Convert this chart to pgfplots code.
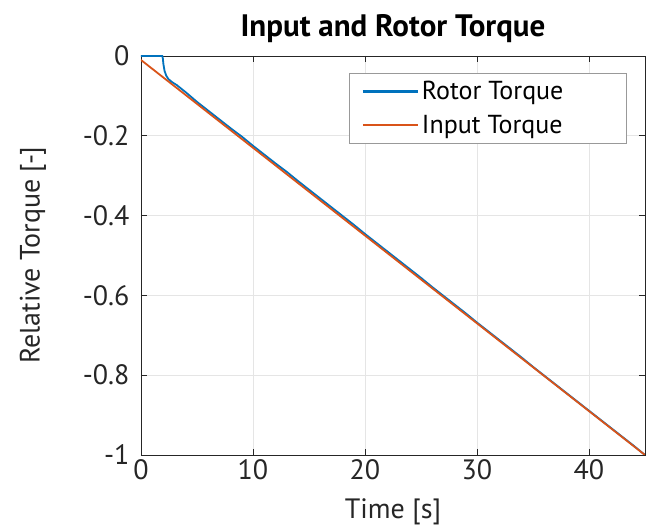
\documentclass[border=0pt]{standalone}
\usepackage{pgfplots}
\pgfplotsset{compat=1.18}
\usepackage{fontspec}
\setmainfont{PT Sans}
\definecolor{mblue}{rgb}{0,0.447,0.741}
\definecolor{morange}{rgb}{0.85,0.325,0.098}
\definecolor{axgray}{rgb}{0.15,0.15,0.15}
\begin{document}
\begin{tikzpicture}
\begin{axis}[
  at={(0,0)}, anchor=south west,
  scale only axis,
  width=504pt, height=399pt,
  xmin=0, xmax=45, ymin=-1, ymax=0,
  xtick={0,10,20,30,40},
  xticklabels={0,10,20,30,40},
  ytick={-1,-0.8,-0.6,-0.4,-0.2,0},
  yticklabels={-1,-0.8,-0.6,-0.4,-0.2,0},
  tick align=inside,
  major tick length=6pt,
  axis line style={axgray, line width=0.9pt},
  every tick/.style={axgray, line width=0.9pt},
  tick label style={font=\fontsize{28}{32}\selectfont, text=axgray},
  yticklabel style={xshift=-8pt},
  xticklabel style={yshift=-1pt},
  grid=major,
  grid style={gray!20, line width=0.6pt},
  xlabel={Time [s]},
  ylabel={Relative Torque [-]},
  label style={font=\fontsize{28}{32}\selectfont, text=axgray},
  xlabel style={yshift=-12pt},
  ylabel style={yshift=30pt},
  title={\textbf{Input and Rotor Torque}},
  title style={font=\fontsize{31}{36}\selectfont, yshift=4pt},
  legend style={at={(0.964,0.957)}, anchor=north east,
    font=\fontsize{26}{30}\selectfont, draw=gray!80, line width=0.8pt,
    row sep=12pt, inner xsep=2pt, inner ysep=7pt,
    nodes={inner xsep=1pt, inner ysep=1pt}},
  legend cell align=left,
  legend image code/.code={
    \path[draw=none] (0pt,0pt) -- (70pt,0pt);
    \draw[#1, line width=2.2pt] (12pt,0pt) -- (67pt,0pt);},
]
\addplot[mblue, line width=1.8pt] coordinates {
  (0,0) (1.9,0) (1.95,-0.006) (2.0,-0.02) (2.1,-0.037) (2.25,-0.049)
  (2.45,-0.058) (2.8,-0.066) (3.2,-0.073) (4,-0.091) (5,-0.115)
  (6,-0.137) (7,-0.159) (8,-0.181) (9,-0.202) (10,-0.225)
  (11,-0.247) (12,-0.269) (13,-0.290) (14,-0.313) (15,-0.335)
  (16,-0.357) (17,-0.379) (18,-0.401) (19,-0.423) (20,-0.446)
  (21,-0.468) (22,-0.490) (23,-0.512) (24,-0.534) (25,-0.556)
  (26,-0.579) (27,-0.601) (28,-0.623) (29,-0.645) (30,-0.668)
  (31,-0.690) (32,-0.712) (33,-0.734) (34,-0.756) (35,-0.779)
  (36,-0.801) (37,-0.823) (38,-0.845) (39,-0.867) (40,-0.889)
  (41,-0.911) (42,-0.933) (43,-0.955) (44,-0.977) (45,-1.0)
};
\addlegendentry{Rotor Torque\hspace*{60pt}}
\addplot[morange, line width=1.8pt] coordinates {
  (0,-0.01) (45,-1)
};
\addlegendentry{Input Torque}
\end{axis}
\pgfresetboundingbox
\path[use as bounding box] (-141pt,-72pt) rectangle (508pt,455pt);
\end{tikzpicture}
\end{document}
